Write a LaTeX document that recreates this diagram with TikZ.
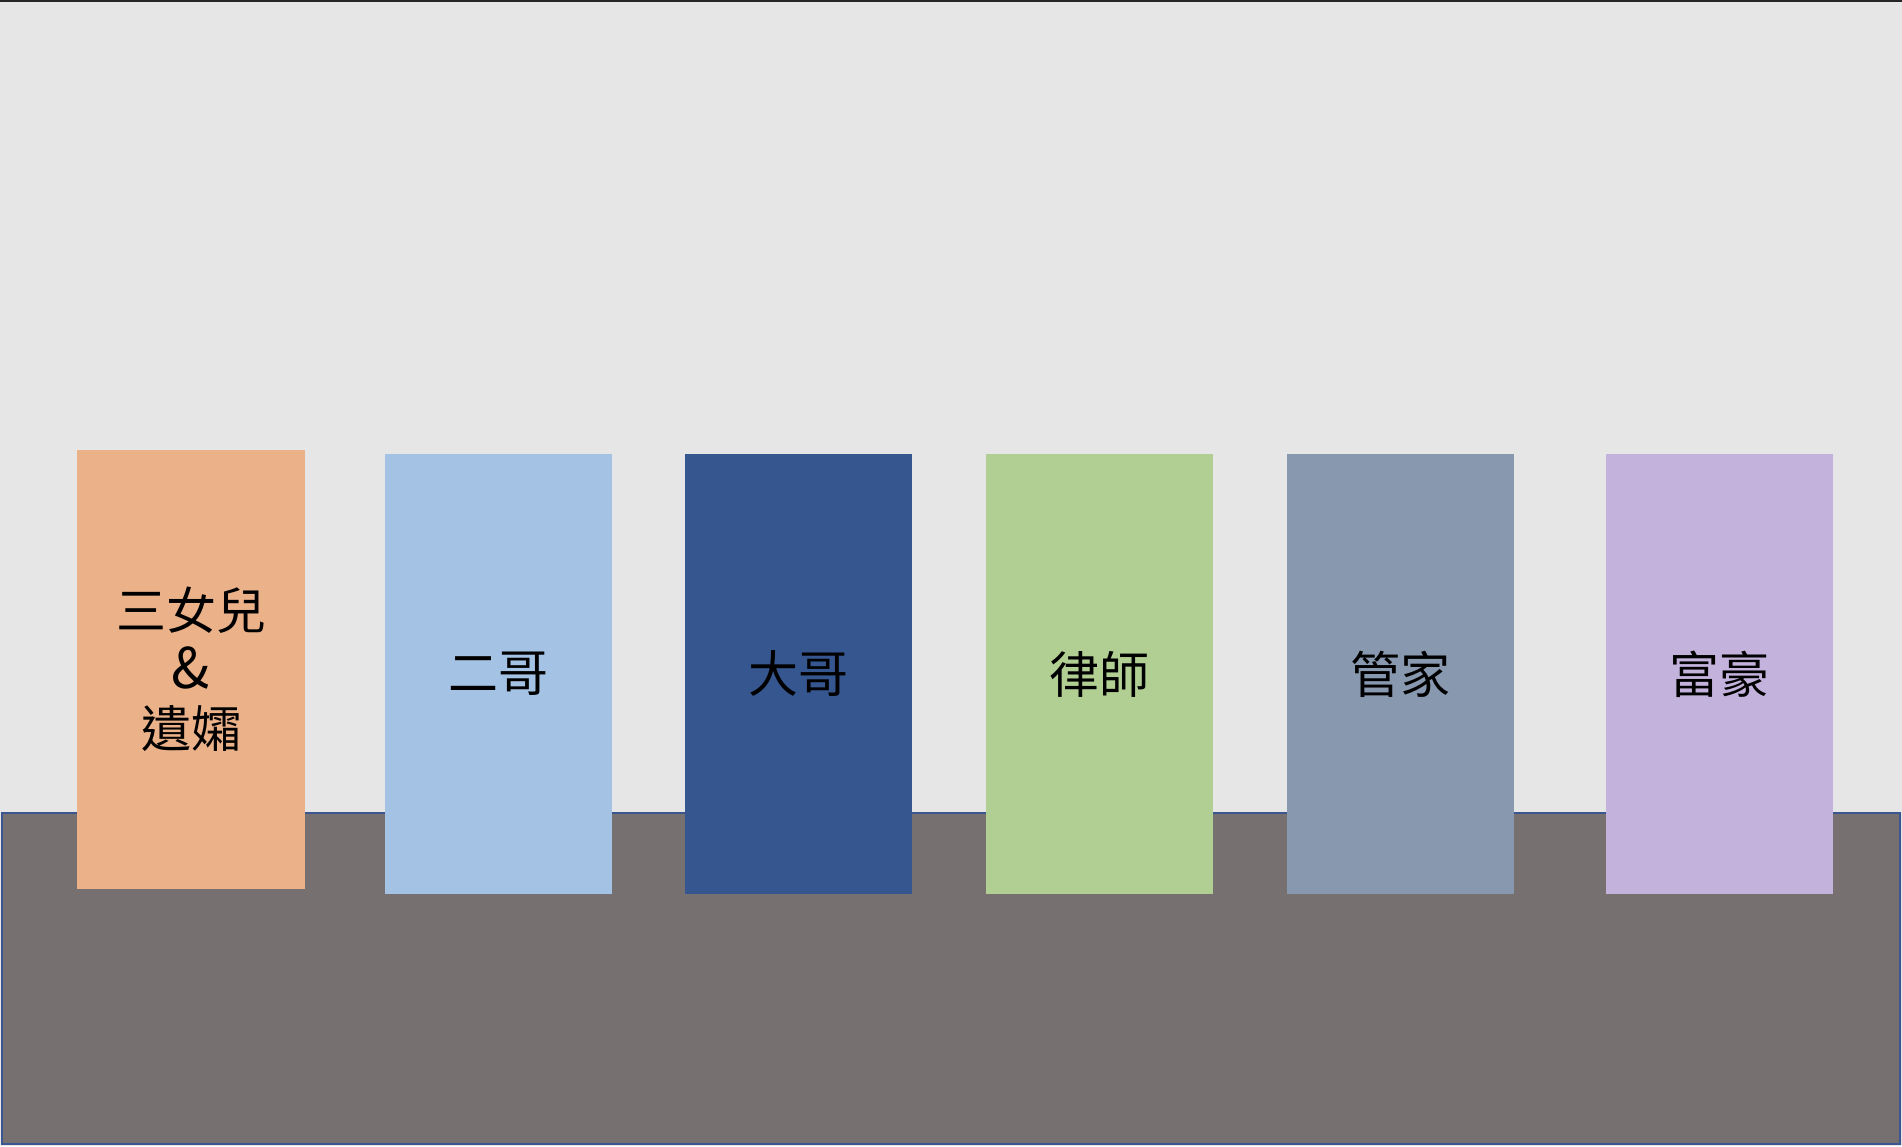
\documentclass[tikz,border=0pt]{standalone}
\usepackage{fontspec}
\newfontfamily\cjk{Noto Sans CJK TC}
\definecolor{bgcol}{HTML}{E6E6E6}
\definecolor{floorcol}{HTML}{767170}
\definecolor{floorline}{HTML}{3A5590}
\definecolor{topline}{HTML}{262626}
\definecolor{cOrange}{HTML}{EBB28A}
\definecolor{cLblue}{HTML}{A4C2E4}
\definecolor{cDblue}{HTML}{35568F}
\definecolor{cGreen}{HTML}{B1CE93}
\definecolor{cGblue}{HTML}{8898AF}
\definecolor{cPurple}{HTML}{C3B2DC}
\tikzset{
  person/.style={rectangle, inner sep=0pt, outer sep=0pt, minimum width=227bp, minimum height=440bp,
    font=\cjk\fontsize{50bp}{59bp}\selectfont, text=black, align=center},
}
\begin{document}
\begin{tikzpicture}[x=1bp,y=-1bp]
\useasboundingbox (0,0) rectangle (1902,1146);
\fill[bgcol] (0,0) rectangle (1902,1146);
\fill[topline] (0,0) rectangle (1902,2);
\filldraw[fill=floorcol, draw=floorline, line width=1.5bp] (2,813) rectangle (1900,1144);
\node[person, fill=cOrange, minimum height=439bp] (daughter) at (191,669.5) {三女兒\\{\fontsize{56bp}{59bp}\selectfont\&}\\遺孀};
\node[person, fill=cLblue] (second) at (498,674) {二哥};
\node[person, fill=cDblue] (eldest) at (798.7,674) {大哥};
\node[person, fill=cGreen] (lawyer) at (1099.5,674) {律師};
\node[person, fill=cGblue] (butler) at (1400.5,674) {管家};
\node[person, fill=cPurple] (rich) at (1719.5,674) {富豪};
\end{tikzpicture}
\end{document}
